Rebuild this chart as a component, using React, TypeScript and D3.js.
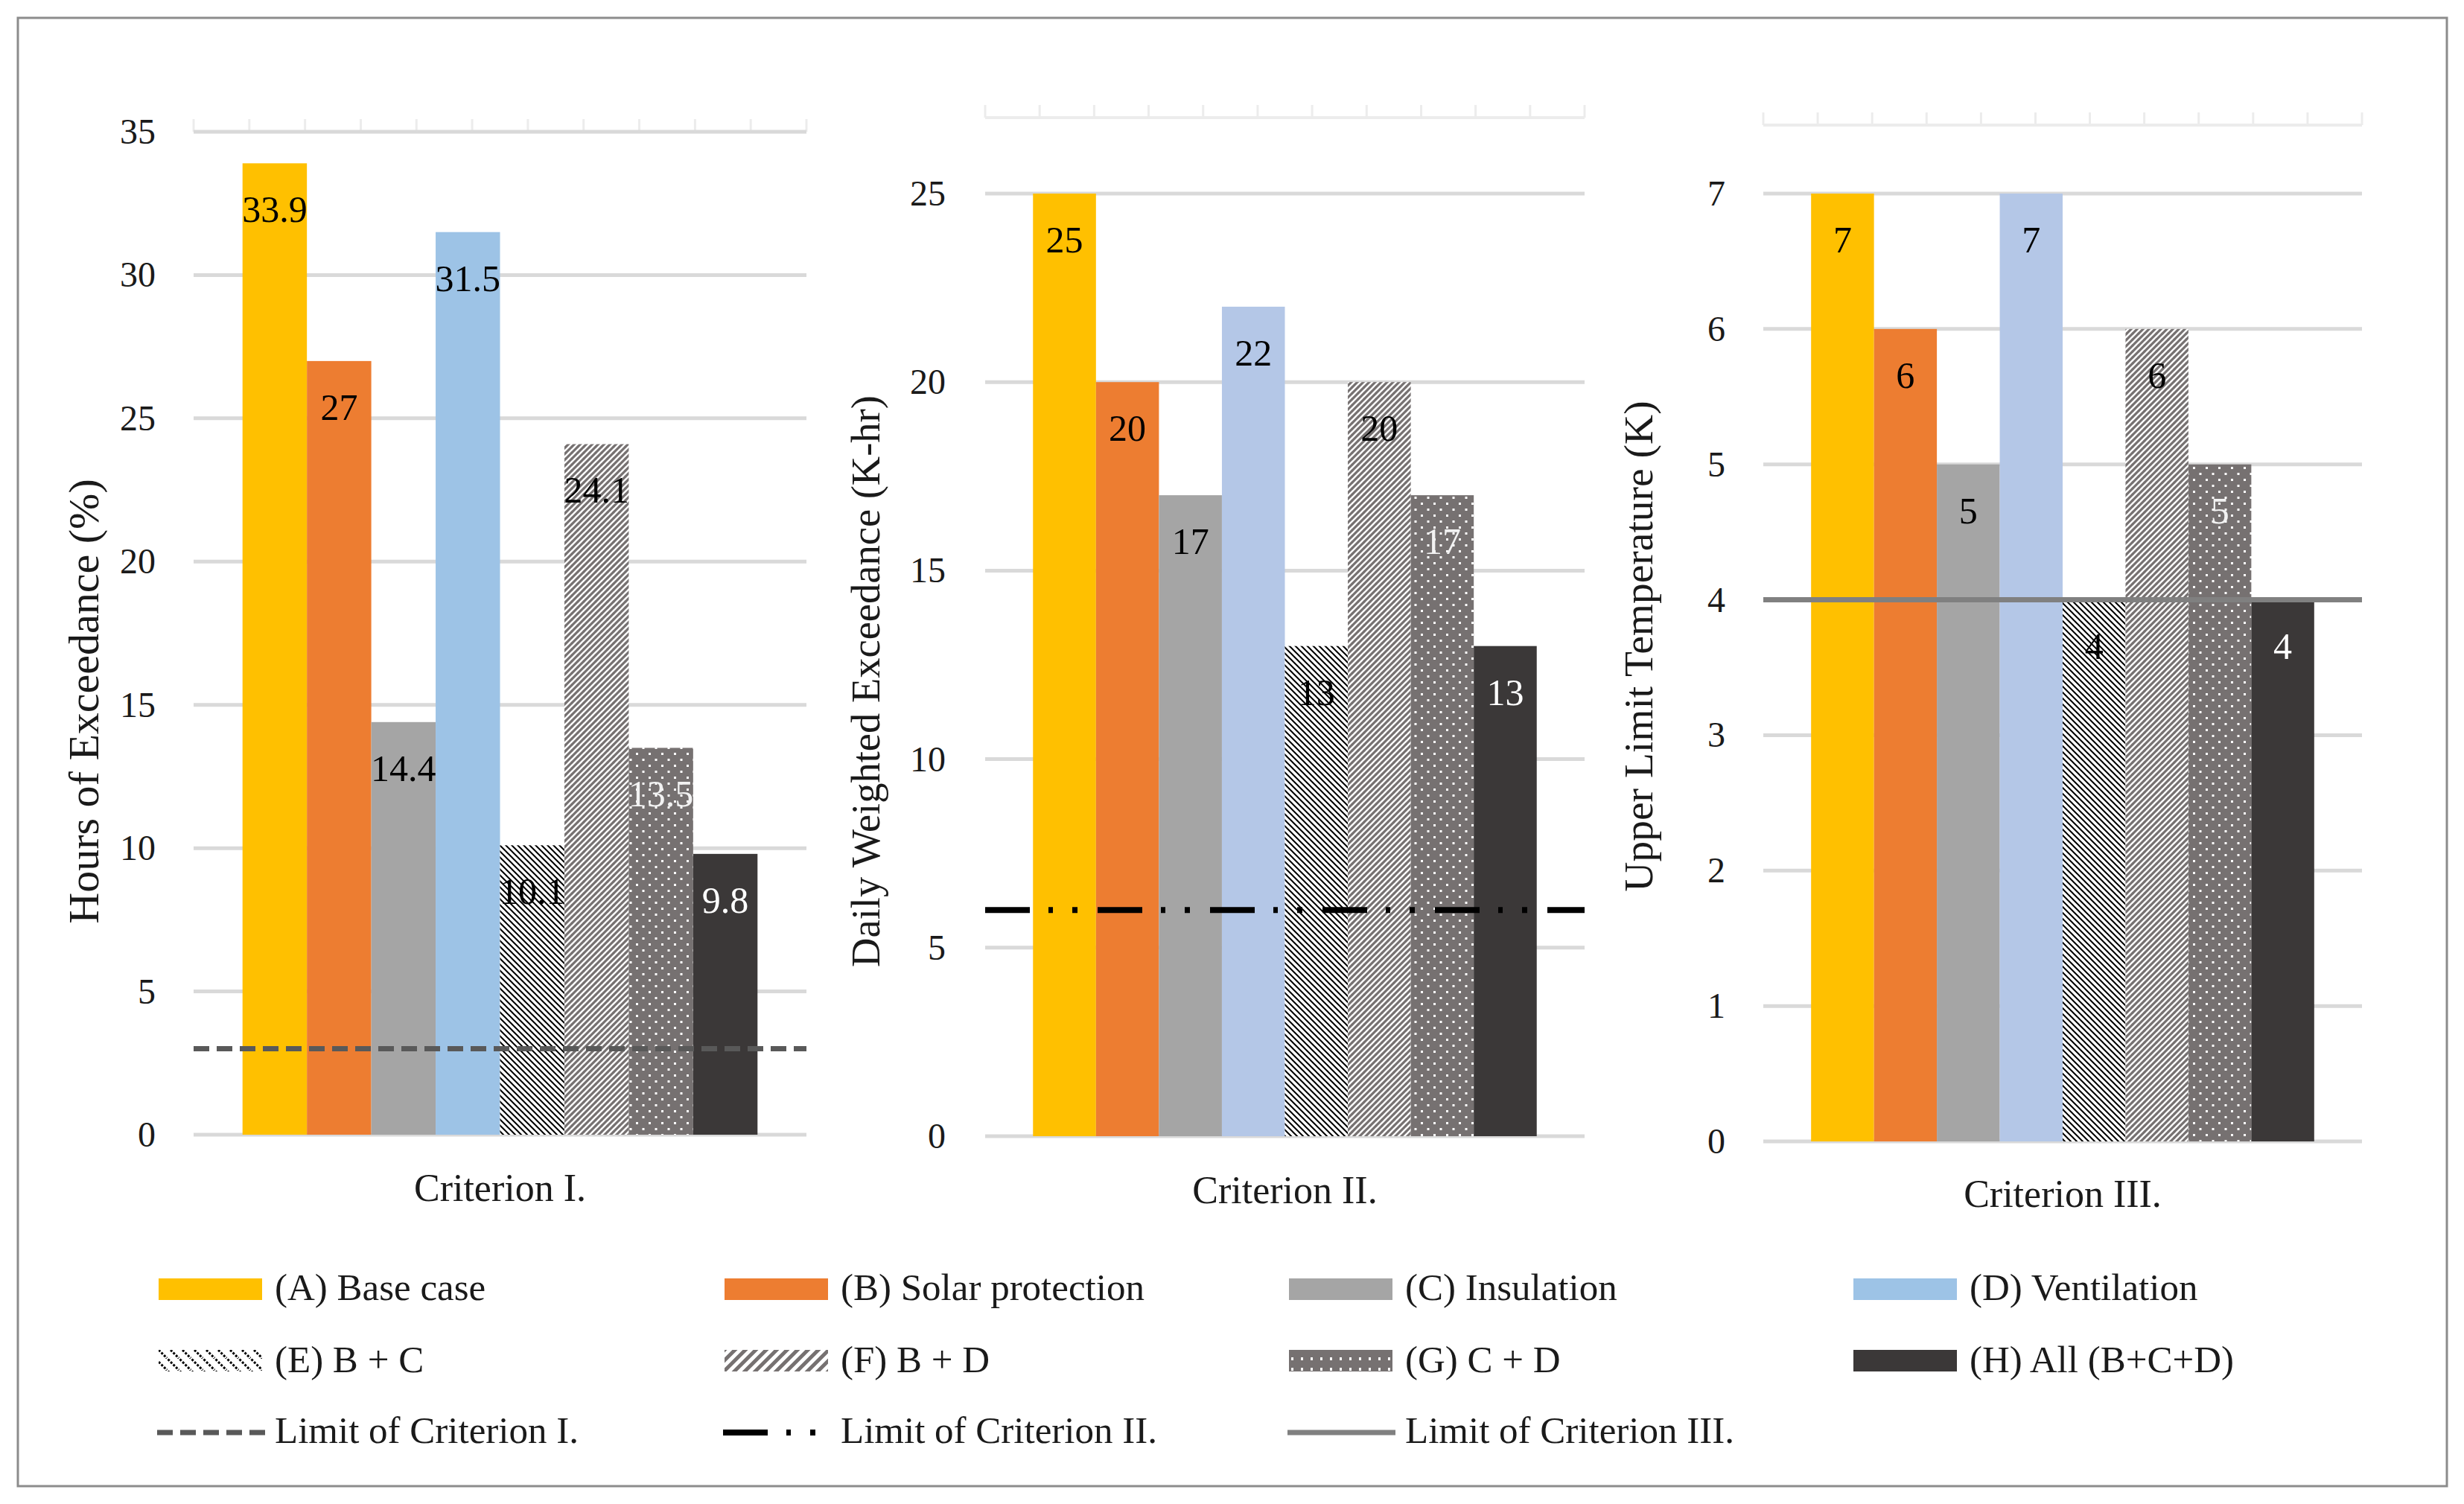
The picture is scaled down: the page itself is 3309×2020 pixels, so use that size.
import React from 'react';
import * as d3 from 'd3';

const seriesKeys = ['A', 'B', 'C', 'D', 'E', 'F', 'G', 'H'];
const seriesNames = [
  '(A) Base case',
  '(B) Solar protection',
  '(C) Insulation',
  '(D) Ventilation',
  '(E) B + C',
  '(F) B + D',
  '(G) C + D',
  '(H) All (B+C+D)',
];
const criterionI = [33.9, 27, 14.4, 31.5, 10.1, 24.1, 13.5, 9.8];
const criterionII = [25, 20, 17, 22, 13, 20, 17, 13];
const criterionIII = [7, 6, 5, 7, 4, 6, 5, 4];
const limitValues = [3, 6, 4];
const ticksI = [0, 5, 10, 15, 20, 25, 30, 35];
const ticksII = [0, 5, 10, 15, 20, 25];
const ticksIII = [0, 1, 2, 3, 4, 5, 6, 7];
const categories = ['Criterion I.', 'Criterion II.', 'Criterion III.'];
const axisTitles = ['Hours of Exceedance (%)', 'Daily Weighted Exceedance (K-hr)', 'Upper Limit Temperature (K)'];
const limitNames = ['Limit of Criterion I.', 'Limit of Criterion II.', 'Limit of Criterion III.'];

const FONT = '"Liberation Serif", "Times New Roman", serif';

const fills = ['#FFC000', '#ED7D31', '#A5A5A5', '#9DC3E6', 'url(#patE)', 'url(#patF)', 'url(#patG)', '#3B3838'];
const legendFills = ['#FFC000', '#ED7D31', '#A5A5A5', '#9DC3E6', 'url(#patEL)', 'url(#patFL)', 'url(#patGL)', '#3B3838'];
const labelColors = ['#000', '#000', '#000', '#000', '#000', '#000', '#f2f2f2', '#ffffff'];

const limitStyles = [
  { stroke: '#595959', width: 7, dash: '21 10' },
  { stroke: '#000000', width: 8, dash: '60 25 6 26 7 27' },
  { stroke: '#808080', width: 7, dash: null as string | null },
];

const layout = [
  { values: criterionI, ticks: ticksI, max: 35, x0: 260, x1: 1083, yMaxPx: 177, y0: 1524, axisTop: 177, tickRight: 209, titleX: 114, titleY: 942, titleSize: 58, catY: 1613, dColor: '#9DC3E6' },
  { values: criterionII, ticks: ticksII, max: 25, x0: 1323, x1: 2128, yMaxPx: 260, y0: 1526, axisTop: 158, tickRight: 1270, titleX: 1163, titleY: 915, titleSize: 54.5, catY: 1616, dColor: '#B4C7E7' },
  { values: criterionIII, ticks: ticksIII, max: 7, x0: 2368, x1: 3172, yMaxPx: 260, y0: 1533, axisTop: 168, tickRight: 2317, titleX: 2201, titleY: 868, titleSize: 55.5, catY: 1621, dColor: '#B4C7E7' },
];

function Panel({ idx }: { idx: number }) {
  const p = layout[idx];
  const y = d3.scaleLinear().domain([0, p.max]).range([p.y0, p.yMaxPx]);
  const x = d3.scaleBand<string>().domain(seriesKeys).range([p.x0, p.x1]).paddingInner(0).paddingOuter(0.76);
  const topTicks = d3.range(12).map((i) => p.x0 + (i * (p.x1 - p.x0)) / 11);
  const ls = limitStyles[idx];
  const ly = y(limitValues[idx]);
  return (
    <g>
      {/* top secondary axis */}
      <line x1={p.x0} x2={p.x1} y1={p.axisTop} y2={p.axisTop} stroke="#ececec" strokeWidth={4} />
      {topTicks.map((tx, i) => (
        <line key={'tt' + i} x1={tx} x2={tx} y1={p.axisTop - 17} y2={p.axisTop} stroke="#ececec" strokeWidth={3} />
      ))}
      {/* gridlines */}
      {p.ticks.map((t) => (
        <line key={'g' + t} x1={p.x0} x2={p.x1} y1={y(t)} y2={y(t)} stroke="#d9d9d9" strokeWidth={5} />
      ))}
      {/* tick labels */}
      {p.ticks.map((t) => (
        <text key={'tl' + t} x={p.tickRight} y={y(t) + 16} textAnchor="end" fontFamily={FONT} fontSize={48} fill="#1a1a1a">
          {t}
        </text>
      ))}
      {/* bars */}
      {seriesKeys.map((k, i) => {
        const v = p.values[i];
        const fill = i === 3 ? p.dColor : fills[i];
        return (
          <rect key={'b' + k} x={x(k)} y={y(v)} width={x.bandwidth()} height={y(0) - y(v)} fill={fill} />
        );
      })}
      {/* limit line */}
      <line
        x1={p.x0}
        x2={p.x1}
        y1={ly}
        y2={ly}
        stroke={ls.stroke}
        strokeWidth={ls.width}
        strokeDasharray={ls.dash || undefined}
      />
      {/* value labels */}
      {seriesKeys.map((k, i) => {
        const v = p.values[i];
        return (
          <text
            key={'v' + k}
            x={(x(k) as number) + x.bandwidth() / 2}
            y={y(v) + 79}
            textAnchor="middle"
            fontFamily={FONT}
            fontSize={50}
            fill={labelColors[i]}
          >
            {String(v)}
          </text>
        );
      })}
      {/* category label */}
      <text x={(p.x0 + p.x1) / 2} y={p.catY} textAnchor="middle" fontFamily={FONT} fontSize={52} fill="#1a1a1a">
        {categories[idx]}
      </text>
      {/* axis title */}
      <text
        transform={`translate(${p.titleX},${p.titleY}) rotate(-90)`}
        x={0}
        y={18}
        textAnchor="middle"
        fontFamily={FONT}
        fontSize={p.titleSize}
        fill="#1a1a1a"
      >
        {axisTitles[idx]}
      </text>
    </g>
  );
}

const legendColX = [213, 973, 1731, 2489];
const legendRowTop = [1717, 1813];
const legendRowBase = [1746, 1843];
const legendLineY = 1924;
const legendLineBase = 1938;

export default function App() {
  return (
    <svg
      width={3309}
      height={2020}
      viewBox="0 0 3309 2020"
      style={{ position: 'absolute', left: 0, top: 0, display: 'block', background: '#fff' }}
    >
      <defs>
        <pattern id="patE" width={8} height={8} patternUnits="userSpaceOnUse">
          <rect width={8} height={8} fill="#fff" />
          <path d="M-1,-1 L9,9 M-1,7 L1,9 M7,-1 L9,1" stroke="#000" strokeWidth={2} />
        </pattern>
        <pattern id="patF" width={8} height={8} patternUnits="userSpaceOnUse">
          <rect width={8} height={8} fill="#fff" />
          <path d="M-1,9 L9,-1 M-1,1 L1,-1 M7,9 L9,7" stroke="#767171" strokeWidth={3.2} />
        </pattern>
        <pattern id="patG" width={17} height={16} patternUnits="userSpaceOnUse">
          <rect width={17} height={16} fill="#767171" />
          <rect x={4} y={3} width={3} height={3} fill="#fff" />
          <rect x={12.5} y={11} width={3} height={3} fill="#fff" />
        </pattern>
        <pattern id="patEL" width={16} height={16} patternUnits="userSpaceOnUse">
          <rect width={16} height={16} fill="#fff" />
          <path d="M-2,-2 L18,18 M-2,14 L2,18 M14,-2 L18,2" stroke="#000" strokeWidth={3} strokeDasharray="3 2" />
        </pattern>
        <pattern id="patFL" width={14} height={14} patternUnits="userSpaceOnUse">
          <rect width={14} height={14} fill="#fff" />
          <path d="M-2,16 L16,-2 M-2,2 L2,-2 M12,16 L16,12" stroke="#767171" strokeWidth={5} />
        </pattern>
        <pattern id="patGL" width={26} height={14} patternUnits="userSpaceOnUse">
          <rect width={26} height={14} fill="#767171" />
          <rect x={5} y={3} width={3} height={4} fill="#fff" />
          <rect x={18} y={3} width={3} height={4} fill="#fff" />
        </pattern>
      </defs>
      <rect x={0} y={0} width={3309} height={2020} fill="#fff" />
      <rect x={24} y={24} width={3262} height={1972} fill="#fff" stroke="#8c8c8c" strokeWidth={3} />
      {layout.map((_, i) => (
        <Panel key={i} idx={i} />
      ))}
      {/* legend: series */}
      {seriesNames.map((name, i) => {
        const col = i % 4;
        const row = Math.floor(i / 4);
        return (
          <g key={'lg' + i}>
            <rect x={legendColX[col]} y={legendRowTop[row]} width={139} height={29} fill={legendFills[i]} />
            <text x={legendColX[col] + 156} y={legendRowBase[row]} fontFamily={FONT} fontSize={51} fill="#1a1a1a">
              {name}
            </text>
          </g>
        );
      })}
      {/* legend: limits */}
      {limitNames.map((name, i) => {
        const ls = limitStyles[i];
        return (
          <g key={'ll' + i}>
            <line
              x1={legendColX[i] - 2}
              x2={legendColX[i] + 143}
              y1={legendLineY}
              y2={legendLineY}
              stroke={ls.stroke}
              strokeWidth={ls.width}
              strokeDasharray={ls.dash || undefined}
            />
            <text x={legendColX[i] + 156} y={legendLineBase} fontFamily={FONT} fontSize={51} fill="#1a1a1a">
              {name}
            </text>
          </g>
        );
      })}
    </svg>
  );
}
